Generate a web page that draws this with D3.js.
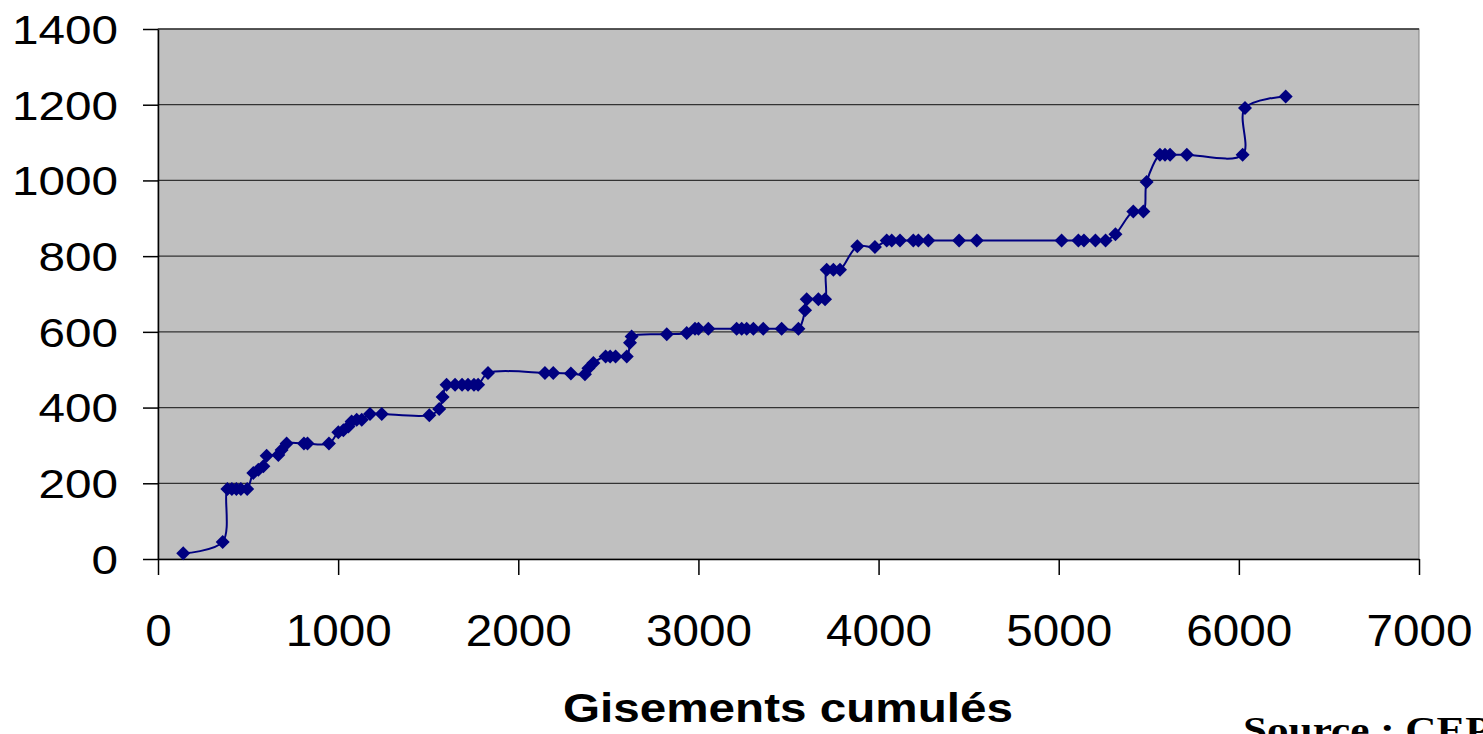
<!DOCTYPE html>
<html>
<head>
<meta charset="utf-8">
<script src="https://cdn.jsdelivr.net/npm/d3@7"></script>
<style>
  body { margin: 0; background: #fff; overflow: hidden; }
  svg { display: block; }
</style>
</head>
<body>
<svg id="chart" width="1483" height="734"></svg>
<script>
// gisements cumulés (x) vs valeur cumulée (y)
var cumX = [140, 359, 385, 410, 435, 460, 495, 529, 557, 585,
            603, 668, 686, 714, 810, 830, 949, 1001, 1029, 1057,
            1075, 1103, 1131, 1177, 1242, 1506, 1561, 1580, 1602, 1649,
            1688, 1721, 1754, 1777, 1832, 2148, 2194, 2292, 2370, 2389,
            2417, 2485, 2510, 2540, 2602, 2620, 2629, 2824, 2935, 2981,
            3000, 3055, 3212, 3240, 3268, 3305, 3360, 3462, 3555, 3592,
            3601, 3666, 3703, 3712, 3749, 3786, 3882, 3980, 4045, 4073,
            4119, 4193, 4221, 4276, 4447, 4545, 5016, 5109, 5140, 5204,
            5260, 5315, 5414, 5470, 5488, 5562, 5590, 5618, 5711, 6021,
            6034, 6260];
var cumY = [15, 45, 185, 185, 185, 185, 185, 227, 236, 245,
            273, 275, 288, 305, 305, 305, 305, 335, 340, 350,
            363, 368, 368, 383, 383, 380, 396, 428, 460, 460,
            460, 460, 460, 460, 491, 491, 491, 490, 488, 504,
            518, 535, 535, 535, 535, 571, 588, 594, 597, 608,
            608, 608, 608, 608, 608, 608, 608, 608, 608, 657,
            686, 686, 686, 764, 764, 764, 826, 824, 841, 841,
            841, 841, 841, 841, 841, 841, 841, 841, 841, 841,
            841, 858, 918, 918, 996, 1068, 1068, 1068, 1068, 1068,
            1191, 1222];

var xTicks = [0, 1000, 2000, 3000, 4000, 5000, 6000, 7000];
var yTicks = [0, 200, 400, 600, 800, 1000, 1200, 1400];
var xTitle = 'Gisements cumulés';
var sourceText = 'Source : CEPII';

var svg = d3.select('#chart');
var plotLeft = 158, plotRight = 1419, plotTop = 29, plotBottom = 559;

var x = d3.scaleLinear().domain([0, 7000]).range([plotLeft, plotRight]);
var y = d3.scaleLinear().domain([0, 1400]).range([plotBottom, plotTop]);

// plot area
svg.append('rect')
   .attr('x', plotLeft).attr('y', plotTop)
   .attr('width', plotRight - plotLeft).attr('height', plotBottom - plotTop)
   .attr('fill', '#c0c0c0')
   .attr('stroke', '#808080')
   .attr('stroke-width', 1);

// horizontal grid
svg.append('g')
   .selectAll('line')
   .data(yTicks.filter(function(d) { return d > 0; }))
   .join('line')
   .attr('x1', plotLeft).attr('x2', plotRight)
   .attr('y1', function(d) { return y(d); })
   .attr('y2', function(d) { return y(d); })
   .attr('stroke', '#333')
   .attr('stroke-width', 1.3);

// axes
var yAxis = svg.append('g')
   .attr('transform', 'translate(' + plotLeft + ',0)')
   .call(d3.axisLeft(y).tickValues(yTicks).tickFormat(d3.format('d'))
      .tickSize(15).tickSizeOuter(0).tickPadding(25));

var xAxis = svg.append('g')
   .attr('transform', 'translate(0,' + plotBottom + ')')
   .call(d3.axisBottom(x).tickValues(xTicks).tickFormat(d3.format('d'))
      .tickSize(16).tickSizeOuter(0).tickPadding(40));

[yAxis, xAxis].forEach(function(ax) {
   ax.select('.domain').attr('stroke', '#000').attr('stroke-width', 1.5);
   ax.selectAll('.tick line').attr('stroke', '#000').attr('stroke-width', 1.5);
   ax.selectAll('.tick text')
     .attr('fill', '#000')
     .style('font-family', '"Liberation Sans", Arial, sans-serif')
     .attr('lengthAdjust', 'spacingAndGlyphs')
     .attr('textLength', function() { return this.textContent.length * 26.5; });
});

yAxis.selectAll('.tick text')
   .style('font-size', '40px')
   .attr('x', -40)
   .attr('dy', '0.36em');

xAxis.selectAll('.tick text')
   .style('font-size', '44px')
   .attr('y', 87)
   .attr('dy', 0);

// smoothed line + diamond markers
var line = d3.line()
   .x(function(d) { return x(cumX[d]); })
   .y(function(d) { return y(cumY[d]); })
   .curve(d3.curveCatmullRom.alpha(0.5));

var idx = d3.range(cumX.length);

svg.append('path')
   .datum(idx)
   .attr('d', line)
   .attr('fill', 'none')
   .attr('stroke', '#000080')
   .attr('stroke-width', 2);

var r = 7;
svg.append('g')
   .selectAll('path')
   .data(idx)
   .join('path')
   .attr('transform', function(d) { return 'translate(' + x(cumX[d]) + ',' + y(cumY[d]) + ')'; })
   .attr('d', 'M0,' + (-r) + 'L' + r + ',0L0,' + r + 'L' + (-r) + ',0Z')
   .attr('fill', '#000080');

// titles
svg.append('text')
   .attr('x', 788).attr('y', 722)
   .attr('text-anchor', 'middle')
   .style('font-family', '"Liberation Sans", Arial, sans-serif')
   .style('font-size', '40px')
   .style('font-weight', 'bold')
   .attr('lengthAdjust', 'spacingAndGlyphs')
   .attr('textLength', 450)
   .text(xTitle);

svg.append('text')
   .attr('transform', 'translate(1243,742) scale(1.2,1)')
   .style('font-family', '"Liberation Serif", "Times New Roman", serif')
   .style('font-size', '36px')
   .style('font-weight', 'bold')
   .text(sourceText);
</script>
</body>
</html>
